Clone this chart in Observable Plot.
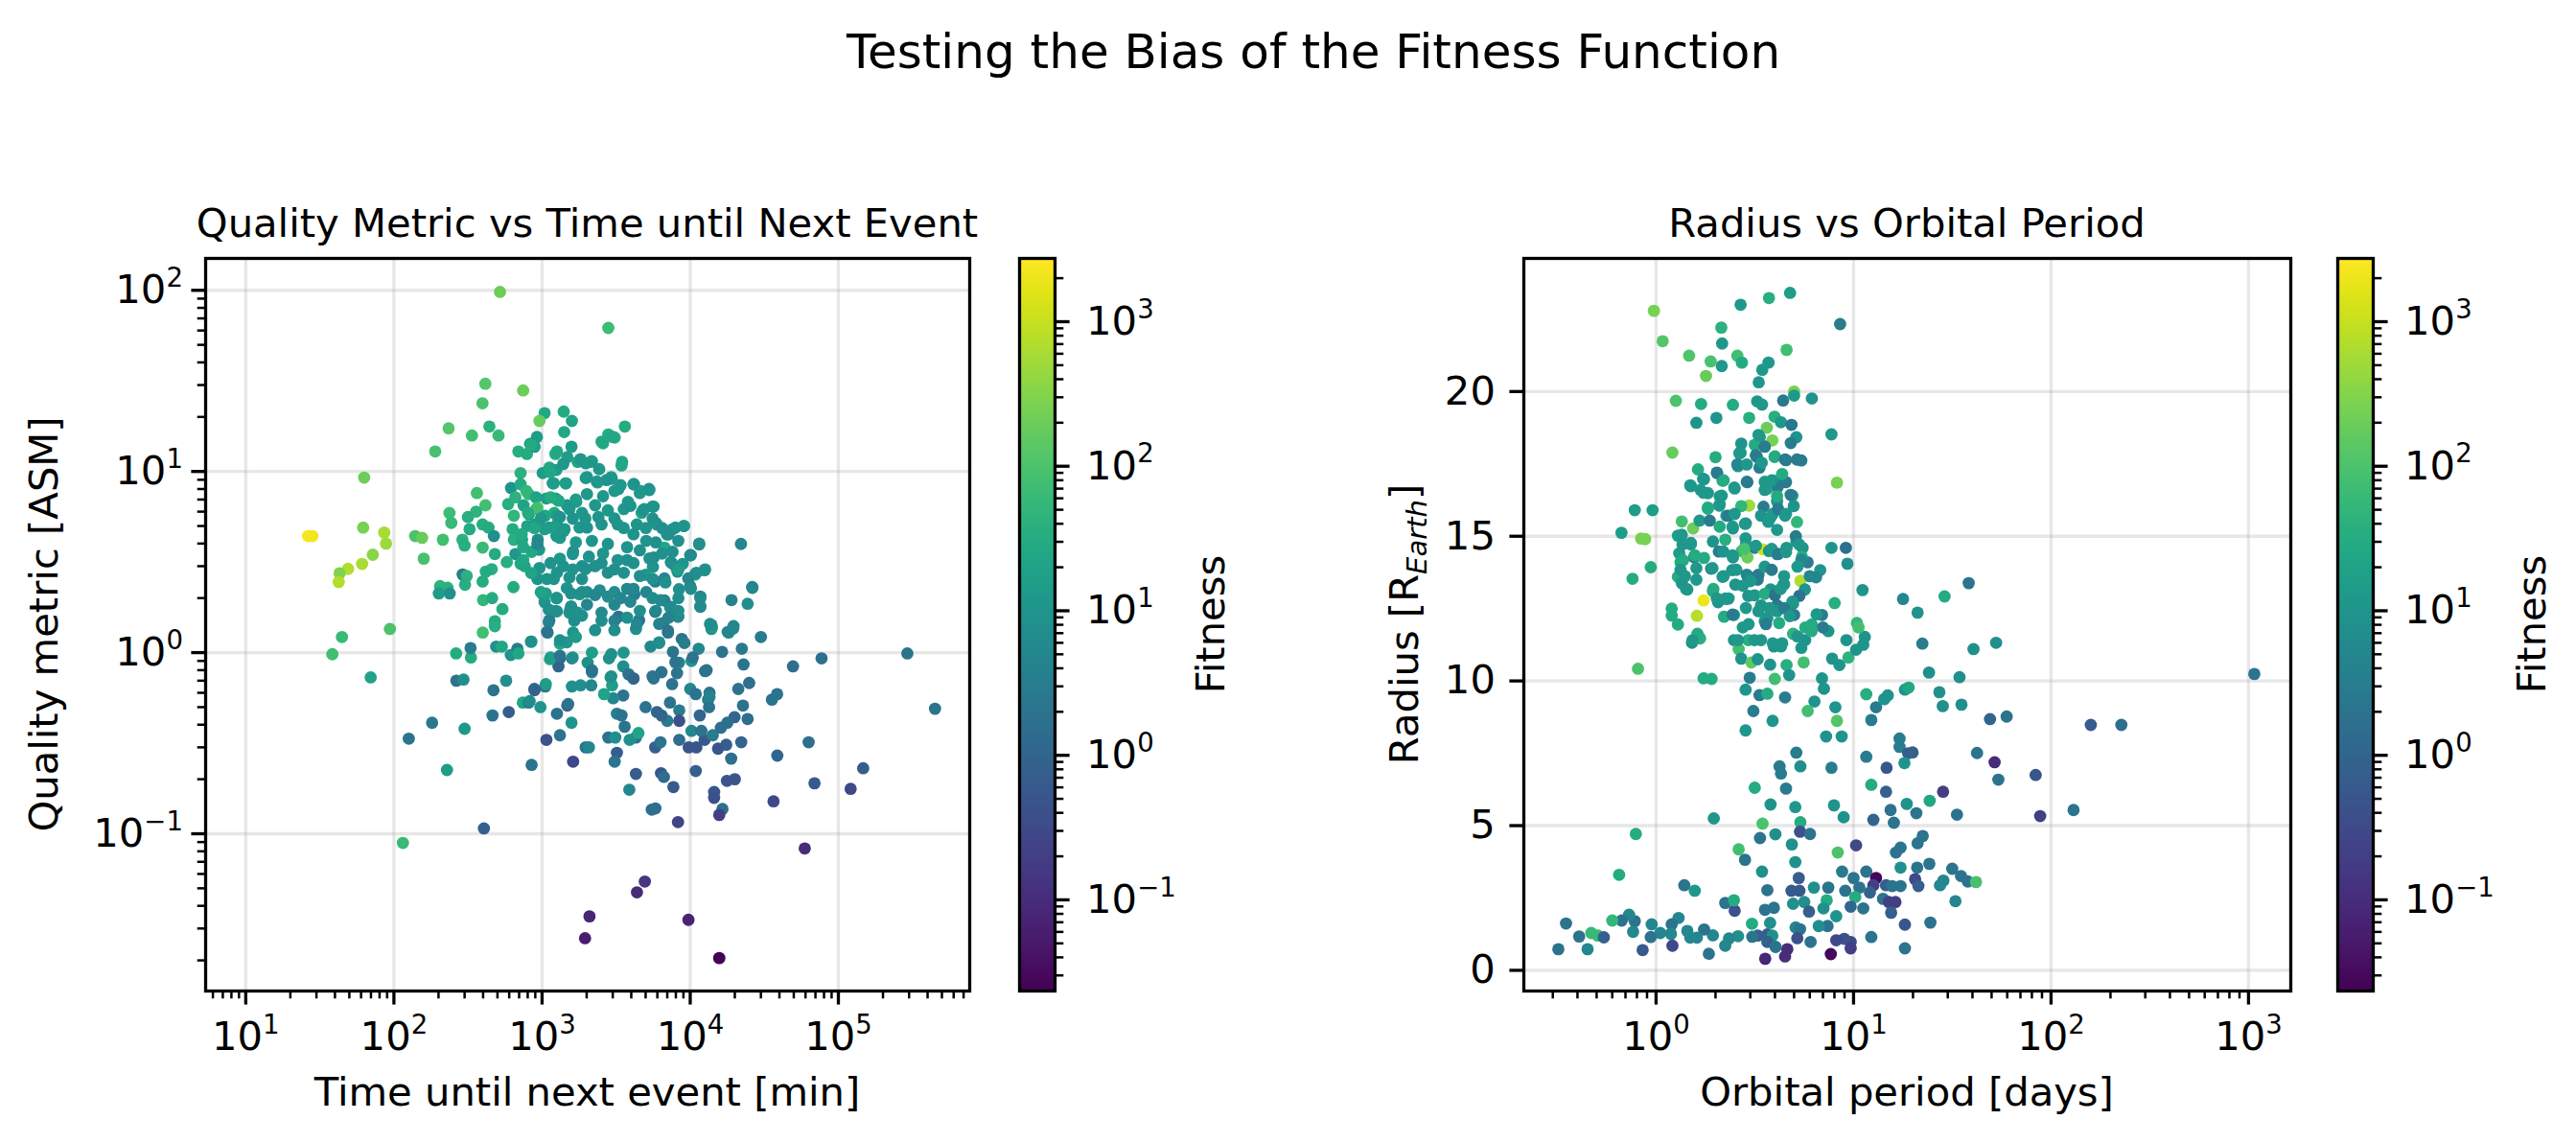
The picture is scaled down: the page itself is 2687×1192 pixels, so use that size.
<!DOCTYPE html>
<html><head><meta charset="utf-8">
<script src="https://cdn.jsdelivr.net/npm/d3@7"></script>
<script src="https://cdn.jsdelivr.net/npm/@observablehq/plot@0.6"></script>
<style>
html,body{margin:0;padding:0;background:#fff;}
#fig{position:relative;width:2687px;height:1192px;background:#fff;overflow:hidden;}
#fig > svg{position:absolute;top:0;}
</style></head><body><div id="fig"></div>
<script>
// ---------- data ----------
// Left panel: [time until next event (min), quality metric (ASM), fitness]
const qualityPoints = [
[520,98,200],[414,30.5,120],[745,28,200],[396,23.8,100],[1040,21,25],[960,19,180],[1400,21.4,30],[1590,19,20],
[234,17.3,120],[336,15.8,80],[441,17.7,40],[508,15.8,60],[190,12.9,90],[1410,16.5,25],[923,15.5,15],[1580,13.7,15],
[692,12.9,35],[790,12.5,30],[890,13.7,15],[830,14.2,12],[1230,12.5,30],[1480,12,15],[1740,11.3,20],[1970,11.1,12],
[716,9.8,40],[1010,9.8,15],[1120,10.5,25],[1250,10.2,15],[1180,8.6,12],[1450,8.6,10],[1970,9.2,12],[63,9.25,200],
[617,8.1,10],[363,7.6,80],[716,8.5,30],[810,7.5,50],[910,7.2,20],[1070,7.1,15],[1230,7.1,15],[415,6.5,80],
[590,6.6,35],[660,7.2,40],[750,6.5,20],[1700,6.8,15],[237,5.9,70],[244,5.2,60],[359,6.0,45],[316,5.6,35],
[645,5.7,50],[815,5.8,18],[930,6.3,90],[1210,5.9,30],[1260,5.1,15],[1470,6.5,12],[324,4.8,30],[397,5.1,35],
[435,4.9,30],[473,4.4,8],[633,4.8,30],[794,5.0,20],[890,5.1,15],[1040,4.8,15],[1250,4.4,12],[1400,4.7,10],
[1790,4.9,12],[86,4.6,600],[88.5,4.0,500],[62,4.9,250],[139,4.4,100],[155,4.3,180],[214,4.2,80],[290,4.2,40],
[300,3.9,35],[397,3.8,60],[480,3.5,30],[645,4.2,35],[733,4.2,20],[660,3.5,12],[935,4.2,6],[955,3.7,12],
[850,3.6,25],[1320,3.3,12],[1620,3.6,6],[1970,2.9,10],[26.3,4.4,2500],[28.2,4.4,2200],[49,2.9,700],[43,2.74,300],
[42.4,2.45,700],[61,3.09,600],[72,3.47,350],[159,3.3,90],[291,2.7,3],[310,2.65,40],[397,2.47,30],[457,2.89,35],
[417,2.8,30],[578,3.16,35],[716,3.09,25],[641,2.3,30],[302,2.37,35],[205,2.33,45],[230,2.28,40],[201,2.12,15],
[238,2.12,8],[400,1.95,50],[460,2.0,30],[540,1.74,30],[480,1.49,30],[1010,2.1,12],[1040,1.9,10],[1250,2.0,12],
[1240,1.7,12],[1550,1.72,12],[1120,1.51,3],[1470,2.27,10],[1790,2.1,10],[1740,1.66,10],
[2800,62,70],[3620,17.7,30],[2800,16,30],[3090,15.4,30],[2580,14.3,30],[3470,11.3,20],[2130,11.3,15],[2430,10.3,12],
[3440,10.8,25],[4170,8.5,12],[5270,8.0,10],[4640,7.8,15],[5660,6.4,10],[4890,6.2,15],[4700,5.9,25],[2960,9.1,12],
[3280,8.0,10],[2370,8.7,25],[3800,6.8,12],[5950,5.1,8],[7600,4.8,8],[9060,5.0,10],[7000,4.5,8],[11500,3.96,5],
[22000,3.98,5],[6700,3.8,25],[7600,3.6,8],[10000,3.45,5],[5660,3.35,6],[7400,3.16,8],[8000,2.97,20],[8900,3.09,10],
[12500,2.85,10],[10800,2.7,15],[8200,2.8,8],[9700,2.57,5],[10000,2.33,5],[8400,2.24,8],[6700,2.57,5],[6700,1.94,4],
[7400,1.79,4],[8200,1.58,7],[11700,2.04,4],[11700,1.79,4],[19000,1.95,4],[24400,1.86,7],[26200,2.3,4],[13900,1.42,3],
[19600,1.4,5],[5600,2.97,10],[5000,2.69,12],[5800,2.47,3],[4200,2.1,3],[5800,1.68,3],[4520,1.51,2],[3280,1.58,2],
[6600,1.46,4],
[44.6,1.22,60],[38.4,0.98,80],[69.7,0.73,20],[94,1.35,100],[115,0.089,60],[126,0.335,2],[181,0.41,2.5],[228,0.225,15],
[300,0.38,12],[405,0.107,0.8],[263,0.99,30],[331,0.94,30],[329,1.06,3],[398,1.29,80],[480,1.4,35],[264,0.7,2],
[295,0.71,8],[470,0.62,2],[572,0.7,8],[463,0.45,2],[596,0.47,0.7],[490,1.08,8],[535,1.08,25],[615,0.97,10],
[681,1.05,3],[692,0.99,25],[843,1.15,25],[741,0.53,25],[812,0.53,2],[890,0.62,1],[975,0.5,10],[1050,0.65,2],
[1070,0.33,0.4],[1260,0.46,2],[1480,0.51,0.7],[1320,0.35,2],[1580,0.41,10],[1620,0.25,0.3],[850,0.24,2],[1970,0.3,2],
[2090,0.035,0.08],[1950,0.0265,0.06],[1090,1.29,3],[1320,0.93,1],[1290,0.84,1],[1590,0.93,2],[1590,0.65,8],[1820,0.66,8],
[1320,1.12,25],[1470,1.14,12],[1620,1.29,10],[1130,0.92,25],[2030,0.88,8],
[292000,0.99,2],[449000,0.49,2],[77000,0.93,1.5],[49400,0.84,1.5],[30000,1.22,3],[22300,1.05,2.5],[22900,0.86,2],[16400,1.01,2],
[25000,0.68,1.5],[21100,0.63,2],[38600,0.59,2],[35600,0.55,2],[22700,0.51,2],[24400,0.43,1.5],[19900,0.44,1],[63000,0.32,1.5],
[38700,0.27,1],[147000,0.23,0.7],[69000,0.19,0.6],[121000,0.177,0.3],[36500,0.151,0.3],[59300,0.083,0.1],[22100,0.32,1],[18900,0.26,1.5],
[17700,0.196,0.5],[20000,0.2,0.5],[14500,0.17,0.5],[14500,0.158,0.4],[16500,0.137,1.5],[15700,0.127,0.2],[8270,0.116,0.25],[10900,0.222,0.8],
[7700,0.181,0.6],[6350,0.216,0.5],[6640,0.206,1.5],[5500,0.136,1.5],[5820,0.138,1.5],[3880,0.175,5],[4300,0.214,0.7],[4940,0.0545,0.15],
[4370,0.0475,0.1],[9730,0.0335,0.07],[15700,0.0206,0.025],[9770,0.3,0.5],[11000,0.3,0.5],[12500,0.33,0.6],[15400,0.295,0.5],[17500,0.31,0.7],
[8430,0.33,1.5],[10200,0.37,5],[11900,0.37,2],[14200,0.35,3],[16100,0.385,1.5],[17800,0.41,1.5],[13200,0.55,3],[13500,0.6,2],
[13400,0.5,2],[11600,0.45,1],[8430,0.48,3],[7300,0.53,2],[7000,0.42,3],[5960,0.47,1],[6400,0.45,1],[8430,0.42,0.4],
[5000,0.5,2],[5800,0.3,0.8],[6300,0.32,2],[4300,0.34,2],[3900,0.33,8],[3200,0.28,0.7],[3090,0.25,2],[2800,0.34,2],
[3120,0.34,7],[3610,0.39,2],[4470,0.36,20],[3200,0.46,3],[3440,0.45,2],[3530,0.58,2],[3020,0.56,5],[2620,0.59,20],
[4140,0.72,2],[5660,0.72,2],[6400,0.78,2],[7550,0.67,2],[8150,0.77,2],[10000,0.63,5],[12600,0.79,2],[2150,0.66,5],
[2070,0.3,5],[2170,0.78,5],[2900,0.73,15],[2970,0.66,15],[3530,0.84,8],[2830,0.93,8],[7080,1.29,2],[8770,1.19,2],
[7640,1.01,2],[8400,0.88,4],[10200,0.9,12],[11400,1.05,5],[13900,1.35,8],[18200,1.29,8],[5400,1.08,5],[6170,1.14,8],
[4300,1.35,8],[3830,0.76,2],
[1140,9.9,25],[1440,8.6,15],[1200,8.6,15],[2010,9.3,12],[2340,8.8,12],[2930,9.3,12],[3390,8.4,12],[4140,8.5,10],
[5300,7.9,10],[4570,7.6,12],[3080,7.8,12],[2580,7.3,12],[2010,7.5,12],[1690,7.0,15],[1290,6.9,25],[1140,7.2,30],
[910,6.2,80],[783,7.8,50],[5570,6.4,10],[4790,6.1,10],[3560,6.2,12],[2780,6.1,12],[2280,6.5,12],[1860,5.9,12],
[1530,6.2,12],[1260,5.7,15],[1050,5.7,25],[803,5.9,30],[5860,5.2,10],[4360,5.1,10],[3240,5.1,10],[2520,5.1,10],
[2010,4.9,10],[1420,4.8,12],[1110,4.9,15],[728,4.5,30],[6980,4.5,10],[7940,4.9,10],[9080,5.0,10],[11500,4.0,8],
[5860,4.06,8],[5050,4.14,10],[3750,3.82,10],[2780,3.98,10],[2170,4.14,10],[1690,4.06,12],[1320,4.3,12],[930,3.98,5],
[1610,3.5,10],[2070,3.39,10],[2580,3.52,10],[3240,3.24,10],[4140,3.12,8],[5310,3.31,8],[6460,3.52,8],[7510,3.12,8],
[10100,3.45,6],[12600,2.88,8],[8320,2.88,15],[11000,2.76,7],[1390,3.0,10],[1140,3.12,10],[960,2.93,10],[764,3.0,20],
[2280,3.0,8],[2780,2.76,8],[3560,2.76,8],[4570,2.65,8],[5570,2.55,8],[6800,2.44,8],[1860,2.55,8],[1530,2.6,10],
[1200,2.55,10],[1060,2.12,15],[1260,2.0,10],[1570,2.12,8],[2010,2.16,7],[2450,2.21,7],[3080,2.16,7],[3750,2.25,5],
[5050,2.16,5],[6300,1.95,6],[7330,1.77,6],[8320,2.0,7],[3940,1.91,5],[3080,1.84,5],[2010,1.84,5],[1530,1.66,8],
[1260,1.69,8],[1110,1.47,4],[1080,1.3,2],[1650,1.5,7],[2520,1.66,6],[3080,1.5,4],[4360,1.44,5],[6170,1.44,4],
[7080,1.32,2],[8320,1.58,6],[11700,2.0,6],[11700,1.8,6],[14000,1.38,12],[17900,1.3,5],[19500,1.36,5],[26300,2.28,5],
[845,1.15,8],[1140,0.94,15],[1320,0.96,2],[2170,1.0,15],[2170,0.8,2],[1610,0.94,8],[2930,0.98,8],[3550,1.0,12],
[2930,0.74,8],[4140,0.72,1],[5570,0.74,2],[7940,0.885,2],[10400,0.94,2],[12900,0.8,2],[13500,0.57,4],[10900,0.59,2],
[887,0.63,0.9],[1060,0.67,15],[824,0.54,6],[1500,0.52,2],
[1820,11.7,12],[2170,11.4,12],[2520,14.6,25],[3000,15.5,25],[1390,11.0,12],[1260,12.9,25],[845,14.0,30],[2720,8.96,10],
[3950,6.46,10],[5570,5.5,8],[6460,4.87,8],[7140,4.5,8],[8310,4.14,8],[10100,2.25,7],[8310,1.7,7],[7140,1.56,4],
[4570,1.7,8],[3750,1.56,8],[2520,1.5,7],[1860,1.6,8],[1570,1.8,8],[1110,1.73,8],[980,2.16,20],[930,2.55,10],
[845,2.75,20],[746,3.24,25],[746,3.82,25],[888,4.87,25],[980,5.5,12],[1320,5.6,10],[1610,5.5,10],[1960,5.5,10],
[2400,5.6,10],[3080,5.5,10],[3560,4.87,10],[4140,4.5,10],[5020,4.87,10],[4570,3.67,8],[3750,3.24,8],[3080,2.88,8],
[2520,3.12,8],[1860,3.0,8],[1610,2.88,10],[1260,2.76,10],[1080,2.55,10],[1860,2.16,8],[2280,2.08,5],[2780,2.04,7],
[3390,2.0,5],[4140,2.25,5],[5570,2.0,7],[5860,1.7,5],[3080,1.33,7],[2280,1.33,7],[1690,1.22,15],[1320,1.17,8],
[6170,1.13,7],[9130,1.13,3],[13600,1.44,7]
];

// Right panel: [orbital period (days), radius (R_Earth), fitness]
const radiusPoints = [
[0.975,22.79,250],[1.08,21.74,120],[1.47,21.24,110],[1.79,20.54,180],[1.89,21.04,90],[2.14,22.21,40],[2.16,21.66,12],[2.15,20.88,12],
[2.68,23.0,12],[3.73,23.23,35],[4.77,23.41,15],[8.55,22.33,3],[4.58,21.44,80],[2.58,21.24,80],[2.72,21.0,30],[3.45,20.75,12],
[3.71,21.0,12],[3.31,20.32,12],[1.26,19.68,100],[1.69,19.57,30],[2.45,19.54,30],[1.6,18.92,10],[2.02,19.09,10],[2.96,19.09,35],
[3.25,19.66,12],[3.44,19.55,12],[4.4,19.69,2.5],[5.0,20.0,250],[5.0,19.86,12],[6.15,19.76,10],[3.98,19.13,35],[4.29,18.94,12],
[4.85,18.85,2.5],[3.64,18.75,200],[3.88,18.31,250],[3.35,18.42,12],[5.13,18.42,10],[7.73,18.52,12],[1.21,17.89,180],[2.7,18.2,10],
[3.16,18.16,30],[3.55,18.1,10],[4.81,18.22,3],[2.0,17.73,30],[2.68,17.88,12],[3.24,17.74,3],[3.98,17.74,30],[4.55,17.63,3],
[5.44,17.62,3],[1.63,17.31,30],[2.04,17.18,3],[2.6,17.42,12],[3.34,17.37,3],[1.75,16.97,12],[2.17,16.92,30],[2.9,16.87,3],
[3.95,16.92,10],[4.55,16.87,3],[8.24,16.85,250],[1.5,16.73,10],[1.74,16.5,12],[2.49,16.68,10],[3.67,16.65,30],[4.13,16.7,3],
[4.9,16.4,12],[2.15,16.4,12],[1.83,15.95,30],[2.09,16.06,10],[2.96,16.06,500],[2.7,16.04,50],[3.5,16.02,3],[4.1,16.2,10],
[4.98,16.04,10],[5.17,15.49,50],[1.35,15.51,80],[1.54,15.27,200],[1.66,15.54,12],[1.87,15.54,3],[2.27,15.71,10],[2.45,15.27,10],
[2.82,15.43,10],[3.4,15.71,10],[3.8,15.65,10],[4.5,15.71,10],[0.78,15.9,15],[0.96,15.9,15],[0.668,15.12,15],[0.84,14.92,250],
[0.88,14.9,250],[0.94,13.93,30],[0.76,13.53,30],[1.29,15.02,15],[1.5,14.77,10],[1.31,14.41,15],[1.56,14.27,3],[1.75,14.25,30],
[1.33,14.1,30],[1.29,13.6,30],[1.35,13.38,12],[1.6,13.5,12],[1.44,13.16,15],[1.94,14.82,10],[2.24,14.88,35],[2.08,14.47,3],
[2.19,14.47,10],[1.9,13.88,3],[2.17,13.6,10],[2.45,14.27,10],[2.84,14.93,12],[2.72,14.49,60],[2.9,14.27,200],[3.16,14.6,3],
[3.47,14.55,1200],[3.73,14.49,10],[4.1,14.38,10],[4.58,14.6,10],[5.13,14.82,10],[5.52,14.6,10],[5.85,14.1,3],[5.48,14.29,30],
[7.73,14.6,10],[9.14,14.6,1.5],[9.31,14.05,8],[6.78,13.83,10],[6.46,13.58,5],[11.1,13.14,10],[17.8,12.83,5],[8.02,12.69,35],
[5.38,13.46,700],[5.67,13.16,10],[5.32,12.94,2],[4.94,12.67,8],[4.42,13.33,3],[3.8,13.16,10],[3.27,13.5,3],[2.93,13.55,10],
[2.93,12.94,10],[2.43,13.83,10],[2.52,13.33,10],[2.26,12.83,10],[2.06,12.72,10],[1.74,12.78,2000],[1.61,12.25,800],[1.2,12.5,30],
[1.2,12.26,30],[1.94,13.1,30],[3.4,12.61,10],[4.1,12.61,3],[4.58,12.5,10],[5.0,12.28,3],[6.92,12.28,3],[10.4,12.0,50],
[6.14,11.95,30],[1.29,11.95,30],[2.21,12.22,30],[2.48,12.28,12],[3.66,12.17,10],
[0.81,10.42,100],[1.52,11.32,10],[1.67,11.47,35],[1.74,10.09,30],[1.91,10.07,30],[2.48,11.41,10],[2.62,11.1,80],[2.7,10.77,10],
[3.04,10.64,150],[3.27,10.75,10],[2.93,11.41,35],[3.4,11.41,12],[2.84,9.7,10],[2.98,10.11,3],[3.34,9.51,3],[3.66,9.56,30],
[3.11,8.96,3],[3.89,8.62,10],[2.84,8.29,12],[3.78,10.56,10],[3.95,11.19,10],[4.29,11.19,10],[3.99,10.07,80],[4.5,9.43,3],
[4.58,10.55,35],[4.72,10.2,10],[4.94,11.63,45],[5.44,11.14,10],[5.59,10.64,80],[5.69,11.41,10],[6.13,11.72,30],[7.45,11.72,10],
[6.92,10.09,10],[7.08,9.73,10],[6.34,9.29,10],[5.86,8.96,80],[8.09,9.09,10],[8.24,8.62,120],[7.26,8.08,10],[8.71,8.08,10],
[7.79,10.77,10],[8.48,10.55,10],[9.42,10.81,45],[9.2,11.41,10],[10.3,11.08,10],[11.2,11.25,10],[11.4,11.52,10],[10.6,11.85,80],
[11.6,9.54,35],[13.0,9.09,3],[14.3,9.37,10],[14.9,9.5,10],[12.3,8.65,3],[18.2,9.7,10],[17.1,8.01,3],[17.1,7.72,3],
[18.9,7.5,0.7],[11.6,7.38,3],[14.7,7.0,0.5],[18.1,7.16,10],[12.3,6.41,30],[14.6,6.17,0.8],[15.4,5.54,2],[16.0,5.1,2],
[12.6,5.2,1],[18.6,5.75,10],[17.3,4.24,2],[16.4,4.07,2],[17.3,3.55,8],[10.3,4.32,0.3],[8.32,4.07,100],[8.75,3.41,3],
[10.0,3.19,2],[11.6,3.41,2],[13.0,3.19,0.03],[12.6,2.94,0.2],[14.6,2.94,0.8],[15.7,2.91,2],[17.3,2.91,2],[9.08,2.75,2],
[10.7,2.86,2],[10.2,2.53,30],[12.1,2.69,1],[14.1,2.47,2],[15.1,2.36,0.2],[16.3,2.36,0.2],[11.2,2.14,2],[9.67,2.2,1],
[15.5,1.99,0.8],[18.2,1.58,0.5],[12.3,1.15,2],[9.67,0.98,0.3],[8.97,1.09,0.4],[9.67,0.76,0.2],[8.17,1.04,0.3],[7.67,0.56,0.03],
[18.2,0.76,2],[7.31,2.42,30],[7.04,2.14,8],[8.17,1.87,10],[7.39,1.53,2],[6.66,1.53,8],[6.06,0.98,2],[6.3,2.86,8],
[7.45,2.86,2],[5.63,2.36,8],[5.95,2.03,0.8],[5.28,3.19,0.7],[5.32,2.75,0.6],[4.85,2.75,0.6],[5.09,1.48,5],[5.36,1.42,2],
[5.19,1.11,0.4],[4.94,2.3,8],[3.66,2.77,2],[3.56,2.09,2],[3.95,2.16,2],[3.78,1.64,8],[3.06,1.61,30],[3.27,1.2,0.8],
[3.66,1.24,0.8],[3.88,1.2,8],[3.66,0.98,0.8],[4.03,0.81,2],[4.62,0.73,0.1],[4.5,0.48,0.1],[3.57,0.4,0.08],[3.07,1.16,2],
[2.6,1.18,8],[2.34,1.1,5],[2.24,0.85,5],[1.85,0.57,2],[1.94,1.21,5],[1.75,1.41,2],[1.61,1.13,5],[1.49,1.13,5],
[1.44,1.36,5],[1.3,1.81,5],[1.2,1.59,2],[1.19,1.26,5],[1.21,0.85,0.3],[1.05,1.29,5],[0.95,1.59,5],[0.94,1.15,2],
[0.855,0.7,0.6],[0.78,1.7,2],[0.765,1.33,5],[0.73,1.92,5],[0.67,1.72,2],[0.6,1.72,50],[0.47,1.29,60],[0.507,1.2,60],
[0.544,1.14,0.8],[0.408,1.17,2],[0.35,1.62,2],[0.45,0.73,5],[0.32,0.73,2],[0.65,3.3,30],[0.79,4.71,30],[1.39,2.94,2],
[1.57,2.75,12],[1.96,5.25,12],[2.24,2.33,2],[2.5,2.06,0.4],[2.48,2.42,30],[2.62,4.18,80],[2.82,3.82,2],[3.16,6.31,30],
[3.46,5.07,100],[3.36,4.57,2],[4.02,4.7,8],[3.44,3.41,8],[3.8,5.73,10],[4.22,7.05,3],[4.29,6.8,3],[4.55,6.28,3],
[5.13,7.52,3],[5.38,7.05,8],[5.07,5.64,12],[5.38,5.12,30],[5.36,4.79,0.4],[6.02,4.71,2],[4.87,4.35,8],[5.07,3.74,8],
[7.73,7.0,3],[7.96,5.7,10],[8.91,5.29,10],
[38.3,13.38,2],[28.9,12.92,30],[21.1,12.36,10],[22.3,11.29,3],[40.5,11.1,8],[52.7,11.32,8],[24.1,10.29,8],[34.4,10.13,8],
[1070,10.24,2],[19.0,9.77,25],[27.2,9.61,8],[28.3,9.13,8],[35.2,9.18,8],[49.1,8.68,1],[59.6,8.77,2],[159,8.48,0.7],
[227,8.48,1.5],[19.9,7.53,0.8],[42.2,7.51,2],[51.8,7.19,0.1],[54.1,6.59,2],[83.6,6.75,0.5],[28.4,6.17,0.2],[24.3,5.86,25],
[20.8,5.43,2],[33.4,5.38,2],[88.1,5.33,0.2],[130,5.54,2],[22.4,4.64,2],[21.1,4.39,2],[24.2,3.68,2],[21,3.55,2],
[31.6,3.51,2],[35.0,3.26,2],[37.9,3.07,2],[41.7,3.05,90],[28.5,3.1,5],[27.4,2.94,5],[20.5,3.15,0.3],[21.3,2.91,0.7],
[32.8,2.39,5],[24.5,1.65,2],
[3.3,18.5,12],[3.55,18.09,3],[3.2,17.8,3],[2.64,17.87,12],[2.58,17.48,5],[2.88,17.48,12],[3.43,17.54,12],[4.0,17.76,30],
[4.5,17.65,3],[5.17,17.65,3],[2.03,17.2,3],[1.73,16.98,12],[2.2,16.93,30],[2.88,16.88,3],[3.55,16.88,12],[3.85,16.93,12],
[4.5,16.88,3],[4.35,17.15,30],[1.49,16.76,12],[1.68,16.6,12],[1.83,16.49,12],[2.1,16.38,12],[2.5,16.65,12],[3.55,16.6,12],
[4.1,16.38,30],[4.8,16.43,3],[1.83,15.99,30],[2.1,16.1,12],[2.33,15.71,3],[2.5,15.77,12],[3.9,15.77,12],[4.15,15.94,3],
[4.55,15.77,12],[2.1,15.33,30],[2.44,15.33,12],[2.85,15.44,12],[3.7,15.5,12],[4.1,15.22,12],[5.1,15.0,3],[1.35,15.05,12],
[1.36,14.72,12],[1.5,14.72,12],[1.57,14.34,30],[1.37,14.17,30],[2.44,14.34,12],[2.85,14.72,12],[2.8,14.56,90],[3.2,14.67,12],
[3.85,14.56,12],[4.15,14.39,3],[4.55,14.45,12],[5.3,14.72,12],[5.45,14.17,5],[5.2,13.95,12],[1.33,13.84,12],[1.4,13.62,12],
[1.6,13.9,12],[1.93,13.9,12],[2.2,13.62,12],[2.55,13.84,12],[2.88,13.67,5],[3.05,13.56,5],[3.3,13.67,3],[3.55,13.95,12],
[3.85,13.84,3],[4.45,13.62,12],[4.45,13.34,12],[6.0,13.62,5],[1.42,13.18,12],[1.95,13.18,30],[2.25,12.85,12],[2.75,13.29,12],
[3.0,13.45,12],[3.15,12.96,12],[3.55,13.01,30],[4.0,12.96,2],[4.27,13.18,12],[4.9,12.74,12],[2.03,12.85,12],[2.33,12.85,12],
[2.44,12.29,3],[2.85,12.52,12],[3.3,12.41,12],[3.75,12.52,12],[4.1,12.41,12],[4.45,12.52,3],[3.55,12.07,12],[3.6,11.96,3],
[4.2,12.0,30],[4.75,12.24,12],[2.94,11.96,12],[2.75,11.85,12],[2.6,11.41,12],[3.15,11.41,12],[3.9,11.3,12],[4.35,11.3,12],
[5.2,11.54,12],[5.7,11.85,30],[6.5,12.3,12],[7.0,11.85,3],[1.62,11.63,30],[1.53,11.41,12]
];

// ticks
const leftXTicks = [10, 100, 1000, 10000, 100000];
const leftYTicks = [0.1, 1, 10, 100];
const rightXTicks = [1, 10, 100, 1000];
const rightYTicks = [0, 5, 10, 15, 20];
const fitnessTicks = [0.1, 1, 10, 100, 1000];

// scale domains
const leftXDomain = [5.36, 7.7e5];
const leftYDomain = [0.01355, 150];
const rightXDomain = [0.214, 1637];
const rightYDomain = [-0.715, 24.6];
const fitnessDomain = [0.0234, 2740];

// ---------- helpers ----------
const FONT = '"DejaVu Sans", sans-serif';
const colorOpts = {type: "log", scheme: "viridis", domain: fitnessDomain};
const sci = d => "10^" + String(Math.round(Math.log10(d))).replace("-", "\u2212");
const blank = () => "";
function minorLog([lo, hi]) {
  const out = [];
  for (let e = Math.floor(Math.log10(lo)); e <= Math.ceil(Math.log10(hi)); e++)
    for (let m = 2; m <= 9; m++) { const v = m * Math.pow(10, e); if (v >= lo && v <= hi) out.push(v); }
  return out;
}
const gridStyle = {stroke: "#b0b0b0", strokeOpacity: 0.3, strokeWidth: 3.3};
const major = {tickSize: 14.6, strokeWidth: 3.3, label: null};
const minor = {tickSize: 8.3, strokeWidth: 2.5, tickFormat: blank, label: null};
const baseStyle = {fontFamily: FONT, fontSize: "41.7px", background: "transparent", overflow: "visible"};

function supify(svg) {
  d3.select(svg).selectAll('g[aria-label$="tick label"] text').each(function () {
    const t = this.textContent;
    const i = t.indexOf("^");
    if (i < 0) return;
    const sel = d3.select(this);
    sel.text(null);
    sel.append("tspan").text(t.slice(0, i));
    sel.append("tspan").attr("dy", "-0.62em").attr("font-size", "0.66em").text(t.slice(i + 1));
  });
}
function place(svg, left) {
  svg.style.position = "absolute";
  svg.style.left = left + "px";
  svg.style.top = "0px";
  document.getElementById("fig").appendChild(svg);
}

// ---------- left scatter ----------
const leftPlot = Plot.plot({
  width: 1040, height: 1192,
  marginLeft: 214, marginRight: 29, marginTop: 269, marginBottom: 159,
  style: baseStyle,
  x: {type: "log", domain: leftXDomain, label: null},
  y: {type: "log", domain: leftYDomain, label: null},
  color: colorOpts,
  marks: [
    Plot.gridX(leftXTicks, gridStyle),
    Plot.gridY(leftYTicks, gridStyle),
    Plot.dot(qualityPoints, {x: d => d[0], y: d => d[1], fill: d => d[2], r: 6.4, stroke: null}),
    Plot.frame({stroke: "black", strokeWidth: 3.3}),
    Plot.axisX(leftXTicks, {...major, tickPadding: 17, tickFormat: sci}),
    Plot.axisX(minorLog(leftXDomain), minor),
    Plot.axisY(leftYTicks, {...major, tickPadding: 9, tickFormat: sci}),
    Plot.axisY(minorLog(leftYDomain), minor)
  ]
});
supify(leftPlot); place(leftPlot, 0);

// ---------- right scatter ----------
const rightPlot = Plot.plot({
  width: 1039, height: 1192,
  marginLeft: 209, marginRight: 30, marginTop: 269, marginBottom: 159,
  style: baseStyle,
  x: {type: "log", domain: rightXDomain, label: null},
  y: {type: "linear", domain: rightYDomain, label: null},
  color: colorOpts,
  marks: [
    Plot.gridX(rightXTicks, gridStyle),
    Plot.gridY(rightYTicks, gridStyle),
    Plot.dot(radiusPoints, {x: d => d[0], y: d => d[1], fill: d => d[2], r: 6.4, stroke: null}),
    Plot.frame({stroke: "black", strokeWidth: 3.3}),
    Plot.axisX(rightXTicks, {...major, tickPadding: 17, tickFormat: sci}),
    Plot.axisX(minorLog(rightXDomain), minor),
    Plot.axisY(rightYTicks, {...major, tickPadding: 15, tickFormat: d => String(d)})
  ]
});
supify(rightPlot); place(rightPlot, 1380);

// ---------- colorbars ----------
function colorbar(left) {
  const cb = Plot.plot({
    width: 37 + 200, height: 1192,
    marginLeft: 0, marginRight: 200, marginTop: 269, marginBottom: 159,
    style: baseStyle,
    x: {domain: [0, 1], axis: null},
    y: {type: "log", domain: fitnessDomain, label: null, axis: null},
    color: colorOpts,
    marks: [
      Plot.raster({x1: 0, x2: 1, y1: fitnessDomain[0], y2: fitnessDomain[1], fill: (x, y) => y, width: 1, height: 764}),
      Plot.frame({stroke: "black", strokeWidth: 3.3}),
      Plot.axisY(fitnessTicks, {...major, anchor: "right", tickPadding: 18, tickFormat: sci}),
      Plot.axisY(minorLog(fitnessDomain), {...minor, anchor: "right"})
    ]
  });
  supify(cb); place(cb, left);
}
colorbar(1063);
colorbar(2438);

// ---------- titles and axis labels ----------
const ov = d3.select("#fig").append("svg")
  .attr("width", 2687).attr("height", 1192)
  .style("position", "absolute").style("left", "0px").style("top", "0px")
  .attr("font-family", FONT).attr("fill", "black");
ov.append("text").attr("x", 1370).attr("y", 70.5).attr("text-anchor", "middle").attr("font-size", 50)
  .text("Testing the Bias of the Fitness Function");
const lbl = (x, y, t, rot) => ov.append("text")
  .attr("transform", `translate(${x},${y})` + (rot ? " rotate(-90)" : ""))
  .attr("text-anchor", "middle").attr("font-size", 41.7).text(t);
lbl(612.5, 247, "Quality Metric vs Time until Next Event");
lbl(1989, 247, "Radius vs Orbital Period");
lbl(612.5, 1153, "Time until next event [min]");
lbl(1989, 1153, "Orbital period [days]");
lbl(60, 651, "Quality metric [ASM]", true);
lbl(1277, 651, "Fitness", true);
lbl(2655, 651, "Fitness", true);
const rl = ov.append("text").attr("transform", "translate(1479,651) rotate(-90)")
  .attr("text-anchor", "middle").attr("font-size", 41.7);
rl.append("tspan").text("Radius [R");
rl.append("tspan").attr("font-style", "italic").attr("font-size", 29).attr("dy", 9).text("Earth");
rl.append("tspan").attr("dy", -9).text("]");
</script></body></html>
